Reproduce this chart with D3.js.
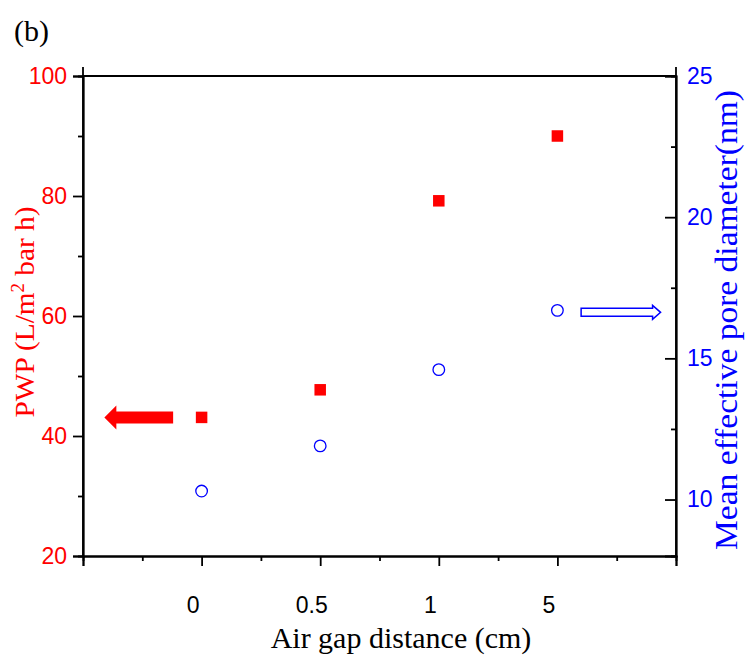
<!DOCTYPE html>
<html>
<head>
<meta charset="utf-8">
<script src="https://cdn.jsdelivr.net/npm/d3@7"></script>
<style>
body { margin: 0; background: #fff; }
svg { display: block; }
</style>
</head>
<body>
<svg id="chart" width="749" height="657"></svg>
<script>
var gapLabels = ["0", "0.5", "1", "5"];
var pwpValues = [43.1, 47.7, 79.2, 90.0];
var poreValues = [10.3, 11.9, 14.6, 16.7];
var pwpTicks = [20, 40, 60, 80, 100];
var pwpMinor = [30, 50, 70, 90];
var poreTicks = [10, 15, 20, 25];
var poreMinor = [12.5, 17.5, 22.5];

drawChart();

function drawChart() {
    var serif = "'Liberation Serif', 'Times New Roman', serif";
    var sans = "'Liberation Sans', Arial, sans-serif";

    var svg = d3.select("#chart");
    var mLeft = 83, mRight = 676, mTop = 76, mBottom = 556;

    var x = d3.scaleLinear().domain([0, gapLabels.length + 1]).range([mLeft, mRight]);
    var yL = d3.scaleLinear().domain([20, 100]).range([mBottom, mTop]);
    var yR = d3.scaleLinear().domain([8, 25]).range([mBottom, mTop]);

    var data = gapLabels.map(function (g, i) {
        return { gap: g, pos: i + 1, pwp: pwpValues[i], pore: poreValues[i] };
    });

    // frame
    svg.append("line").attr("x1", mLeft).attr("x2", mRight).attr("y1", mTop).attr("y2", mTop)
        .attr("stroke", "#000").attr("stroke-width", 1.8);
    svg.append("line").attr("x1", mLeft).attr("x2", mLeft).attr("y1", mTop - 9).attr("y2", mBottom)
        .attr("stroke", "#000").attr("stroke-width", 1.8);
    svg.append("line").attr("x1", mRight).attr("x2", mRight).attr("y1", mTop - 9).attr("y2", mBottom)
        .attr("stroke", "#000").attr("stroke-width", 1.8);

    function styleAxis(g, color) {
        g.select(".domain").attr("stroke", "#000").attr("stroke-width", 1.8);
        g.selectAll(".tick line").attr("stroke", "#000").attr("stroke-width", 1.8);
        g.selectAll(".tick text").attr("fill", color)
            .attr("font-family", sans).attr("font-size", 23);
    }

    // bottom axis
    var xMajor = d3.range(0, gapLabels.length + 2);
    var gx = svg.append("g").attr("transform", "translate(0," + mBottom + ")")
        .call(d3.axisBottom(x).tickValues(xMajor).tickSize(10).tickPadding(31)
            .tickFormat(function (d) { return gapLabels[d - 1] || ""; }));
    styleAxis(gx, "#000");
    gx.selectAll(".tick text").attr("dx", -9);
    var gxm = svg.append("g").attr("transform", "translate(0," + mBottom + ")")
        .call(d3.axisBottom(x).tickValues(xMajor.slice(1).map(function (d) { return d - 0.5; }))
            .tickSize(5).tickFormat(""));
    styleAxis(gxm, "#000");

    // left axis
    var gl = svg.append("g").attr("transform", "translate(" + mLeft + ",0)")
        .call(d3.axisLeft(yL).tickValues(pwpTicks).tickSize(10).tickPadding(6));
    styleAxis(gl, "#ff0000");
    var glm = svg.append("g").attr("transform", "translate(" + mLeft + ",0)")
        .call(d3.axisLeft(yL).tickValues(pwpMinor).tickSize(5).tickFormat(""));
    styleAxis(glm, "#000");

    // right axis (ticks point inward)
    var gr = svg.append("g").attr("transform", "translate(" + mRight + ",0)")
        .call(d3.axisRight(yR).tickValues(poreTicks).tickSize(-11).tickPadding(11));
    styleAxis(gr, "#0000ff");
    var grm = svg.append("g").attr("transform", "translate(" + mRight + ",0)")
        .call(d3.axisRight(yR).tickValues(poreMinor).tickSize(-5).tickFormat(""));
    styleAxis(grm, "#000");

    // points
    var sq = 11.5;
    svg.selectAll("rect.pwp").data(data).enter().append("rect")
        .attr("class", "pwp")
        .attr("x", function (d) { return x(d.pos) - sq / 2; })
        .attr("y", function (d) { return yL(d.pwp) - sq / 2; })
        .attr("width", sq).attr("height", sq)
        .attr("fill", "#ff0000");

    svg.selectAll("circle.pore").data(data).enter().append("circle")
        .attr("class", "pore")
        .attr("cx", function (d) { return x(d.pos); })
        .attr("cy", function (d) { return yR(d.pore); })
        .attr("r", 5.8)
        .attr("fill", "none").attr("stroke", "#0000ff").attr("stroke-width", 1.3);

    // arrows
    var ra = yL(pwpValues[0]);
    var rx0 = x(0.18), rx1 = x(0.76), rh = 12;
    svg.append("path")
        .attr("d", "M" + rx0 + "," + ra + "L" + (rx0 + rh) + "," + (ra - 12) + "L" + (rx0 + rh) + "," + (ra - 6) +
            "L" + rx1 + "," + (ra - 6) + "L" + rx1 + "," + (ra + 6) + "L" + (rx0 + rh) + "," + (ra + 6) +
            "L" + (rx0 + rh) + "," + (ra + 12) + "Z")
        .attr("fill", "#ff0000");

    var ba = yR(poreValues[3]) + 2;
    var bx0 = x(4.2), bx1 = x(4.87), bh = 8;
    svg.append("path")
        .attr("d", "M" + bx0 + "," + (ba - 4) + "L" + (bx1 - bh) + "," + (ba - 4) + "L" + (bx1 - bh) + "," + (ba - 7) +
            "L" + bx1 + "," + ba + "L" + (bx1 - bh) + "," + (ba + 7) + "L" + (bx1 - bh) + "," + (ba + 4) +
            "L" + bx0 + "," + (ba + 4) + "Z")
        .attr("fill", "#fff").attr("stroke", "#0000ff").attr("stroke-width", 1.5);

    // texts
    svg.append("text").attr("x", 14).attr("y", 41)
        .attr("font-family", serif).attr("font-size", 30).text("(b)");

    svg.append("text").attr("x", 401).attr("y", 648).attr("text-anchor", "middle")
        .attr("font-family", serif).attr("font-size", 30).text("Air gap distance (cm)");

    var lt = svg.append("text")
        .attr("transform", "translate(34,312) rotate(-90)")
        .attr("text-anchor", "middle").attr("fill", "#ff0000")
        .attr("font-family", serif).attr("font-size", 28)
        .attr("textLength", 211).attr("lengthAdjust", "spacingAndGlyphs");
    lt.append("tspan").text("PWP (L/m");
    lt.append("tspan").attr("dy", -10).attr("font-size", 18).text("2");
    lt.append("tspan").attr("dy", 10).text(" bar h)");

    svg.append("text")
        .attr("transform", "translate(737,320) rotate(-90)")
        .attr("text-anchor", "middle").attr("fill", "#0000ff")
        .attr("font-family", serif).attr("font-size", 32)
        .attr("textLength", 460).attr("lengthAdjust", "spacingAndGlyphs")
        .text("Mean effective pore diameter(nm)");
}
</script>
</body>
</html>
